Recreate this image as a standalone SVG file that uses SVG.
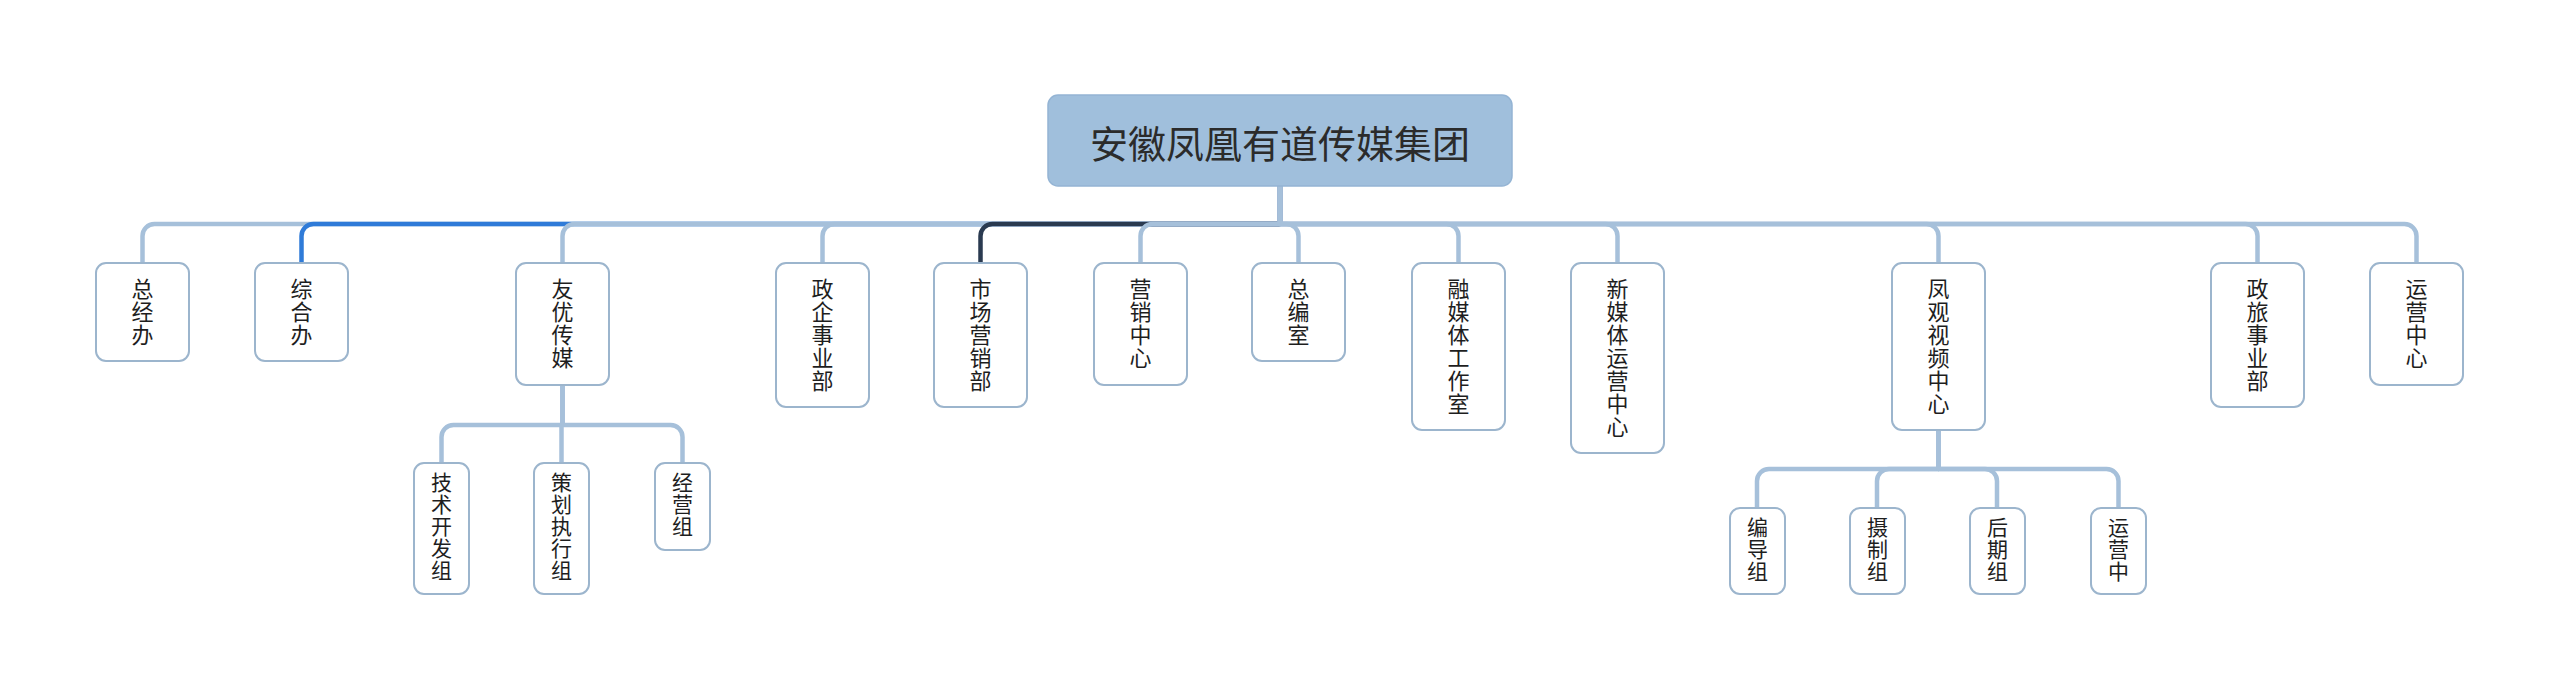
<svg xmlns="http://www.w3.org/2000/svg" width="2560" height="691" viewBox="0 0 2560 691">
<style>
.bg{fill:#ffffff}
.c{fill:none;stroke:#a6c0da;stroke-width:4.5;stroke-linejoin:round}
.cb{fill:none;stroke:#2f7bd8;stroke-width:4.5;stroke-linejoin:round}
.cd{fill:none;stroke:#2a3a50;stroke-width:4.5;stroke-linejoin:round}
.box{fill:#ffffff;stroke:#9cb5cd;stroke-width:2}
.root{fill:#a0bfdc;stroke:#94b4d4;stroke-width:1.5}
.t1{font-family:"Noto Sans CJK SC","Noto Sans",sans-serif;font-size:22px;fill:#1e1e1e;text-anchor:middle}
.t2{font-family:"Noto Sans CJK SC","Noto Sans",sans-serif;font-size:21px;fill:#1e1e1e;text-anchor:middle}
.tr{font-family:"Noto Sans CJK SC","Noto Sans",sans-serif;font-size:38px;fill:#2b2b2b;text-anchor:middle}
</style>
<rect class="bg" x="0" y="0" width="2560" height="691"/>
<g id="connectors">
<path class="c" d="M142.5,263 V236 A12,12 0 0 1 154.5,224 H1280 V186"/>
<path class="cb" d="M301.5,263 V236 A12,12 0 0 1 313.5,224 H1280 V186"/>
<path class="c" d="M562.5,263 V236 A12,12 0 0 1 574.5,224 H1280 V186"/>
<path class="c" d="M822.5,263 V236 A12,12 0 0 1 834.5,224 H1280 V186"/>
<path class="cd" d="M980.5,263 V236 A12,12 0 0 1 992.5,224 H1280 V186"/>
<path class="c" d="M1140.5,263 V236 A12,12 0 0 1 1152.5,224 H1280 V186"/>
<path class="c" d="M2416.5,263 V236 A12,12 0 0 0 2404.5,224 H1280 V186"/>
<path class="c" d="M2257.5,263 V236 A12,12 0 0 0 2245.5,224 H1280 V186"/>
<path class="c" d="M1938.5,263 V236 A12,12 0 0 0 1926.5,224 H1280 V186"/>
<path class="c" d="M1617.5,263 V236 A12,12 0 0 0 1605.5,224 H1280 V186"/>
<path class="c" d="M1458.5,263 V236 A12,12 0 0 0 1446.5,224 H1280 V186"/>
<path class="c" d="M1298.5,263 V236 A12,12 0 0 0 1286.5,224 H1280 V186"/>
<path class="c" d="M441.5,463 V437 A12,12 0 0 1 453.5,425 H562.5 V385"/>
<path class="c" d="M682.5,463 V437 A12,12 0 0 0 670.5,425 H562.5 V385"/>
<path class="c" d="M561.5,463 V425 H562.5 V385"/>
<path class="c" d="M1757,508 V481 A12,12 0 0 1 1769,469 H1938.5 V430"/>
<path class="c" d="M1877,508 V481 A12,12 0 0 1 1889,469 H1938.5 V430"/>
<path class="c" d="M2118.5,508 V481 A12,12 0 0 0 2106.5,469 H1938.5 V430"/>
<path class="c" d="M1997,508 V481 A12,12 0 0 0 1985,469 H1938.5 V430"/>
</g>
<g id="root">
<rect class="root" x="1048" y="95" width="464" height="91" rx="10"/>
<text class="tr" x="1280" y="158">安徽凤凰有道传媒集团</text>
</g>
<g id="n-zongjingban">
<rect class="box" x="96" y="263" width="93" height="98" rx="10"/>
<text class="t1" x="142.5" y="297"><tspan x="142.5">总</tspan><tspan x="142.5" dy="23">经</tspan><tspan x="142.5" dy="23">办</tspan></text>
</g>
<g id="n-zonghe">
<rect class="box" x="255" y="263" width="93" height="98" rx="10"/>
<text class="t1" x="301.5" y="297"><tspan x="301.5">综</tspan><tspan x="301.5" dy="23">合</tspan><tspan x="301.5" dy="23">办</tspan></text>
</g>
<g id="n-youyou">
<rect class="box" x="516" y="263" width="93" height="122" rx="10"/>
<text class="t1" x="562.5" y="297"><tspan x="562.5">友</tspan><tspan x="562.5" dy="23">优</tspan><tspan x="562.5" dy="23">传</tspan><tspan x="562.5" dy="23">媒</tspan></text>
</g>
<g id="n-zhengqi">
<rect class="box" x="776" y="263" width="93" height="144" rx="10"/>
<text class="t1" x="822.5" y="297"><tspan x="822.5">政</tspan><tspan x="822.5" dy="23">企</tspan><tspan x="822.5" dy="23">事</tspan><tspan x="822.5" dy="23">业</tspan><tspan x="822.5" dy="23">部</tspan></text>
</g>
<g id="n-shichang">
<rect class="box" x="934" y="263" width="93" height="144" rx="10"/>
<text class="t1" x="980.5" y="297"><tspan x="980.5">市</tspan><tspan x="980.5" dy="23">场</tspan><tspan x="980.5" dy="23">营</tspan><tspan x="980.5" dy="23">销</tspan><tspan x="980.5" dy="23">部</tspan></text>
</g>
<g id="n-yingxiao">
<rect class="box" x="1094" y="263" width="93" height="122" rx="10"/>
<text class="t1" x="1140.5" y="297"><tspan x="1140.5">营</tspan><tspan x="1140.5" dy="23">销</tspan><tspan x="1140.5" dy="23">中</tspan><tspan x="1140.5" dy="23">心</tspan></text>
</g>
<g id="n-zongbian">
<rect class="box" x="1252" y="263" width="93" height="98" rx="10"/>
<text class="t1" x="1298.5" y="297"><tspan x="1298.5">总</tspan><tspan x="1298.5" dy="23">编</tspan><tspan x="1298.5" dy="23">室</tspan></text>
</g>
<g id="n-rongmeiti">
<rect class="box" x="1412" y="263" width="93" height="167" rx="10"/>
<text class="t1" x="1458.5" y="297"><tspan x="1458.5">融</tspan><tspan x="1458.5" dy="23">媒</tspan><tspan x="1458.5" dy="23">体</tspan><tspan x="1458.5" dy="23">工</tspan><tspan x="1458.5" dy="23">作</tspan><tspan x="1458.5" dy="23">室</tspan></text>
</g>
<g id="n-xinmeiti">
<rect class="box" x="1571" y="263" width="93" height="190" rx="10"/>
<text class="t1" x="1617.5" y="297"><tspan x="1617.5">新</tspan><tspan x="1617.5" dy="23">媒</tspan><tspan x="1617.5" dy="23">体</tspan><tspan x="1617.5" dy="23">运</tspan><tspan x="1617.5" dy="23">营</tspan><tspan x="1617.5" dy="23">中</tspan><tspan x="1617.5" dy="23">心</tspan></text>
</g>
<g id="n-fengguan">
<rect class="box" x="1892" y="263" width="93" height="167" rx="10"/>
<text class="t1" x="1938.5" y="297"><tspan x="1938.5">凤</tspan><tspan x="1938.5" dy="23">观</tspan><tspan x="1938.5" dy="23">视</tspan><tspan x="1938.5" dy="23">频</tspan><tspan x="1938.5" dy="23">中</tspan><tspan x="1938.5" dy="23">心</tspan></text>
</g>
<g id="n-zhenglv">
<rect class="box" x="2211" y="263" width="93" height="144" rx="10"/>
<text class="t1" x="2257.5" y="297"><tspan x="2257.5">政</tspan><tspan x="2257.5" dy="23">旅</tspan><tspan x="2257.5" dy="23">事</tspan><tspan x="2257.5" dy="23">业</tspan><tspan x="2257.5" dy="23">部</tspan></text>
</g>
<g id="n-yunying">
<rect class="box" x="2370" y="263" width="93" height="122" rx="10"/>
<text class="t1" x="2416.5" y="297"><tspan x="2416.5">运</tspan><tspan x="2416.5" dy="23">营</tspan><tspan x="2416.5" dy="23">中</tspan><tspan x="2416.5" dy="23">心</tspan></text>
</g>
<g id="n-jishu">
<rect class="box" x="414" y="463" width="55" height="131" rx="10"/>
<text class="t2" x="441.5" y="490"><tspan x="441.5">技</tspan><tspan x="441.5" dy="22">术</tspan><tspan x="441.5" dy="22">开</tspan><tspan x="441.5" dy="22">发</tspan><tspan x="441.5" dy="22">组</tspan></text>
</g>
<g id="n-cehua">
<rect class="box" x="534" y="463" width="55" height="131" rx="10"/>
<text class="t2" x="561.5" y="490"><tspan x="561.5">策</tspan><tspan x="561.5" dy="22">划</tspan><tspan x="561.5" dy="22">执</tspan><tspan x="561.5" dy="22">行</tspan><tspan x="561.5" dy="22">组</tspan></text>
</g>
<g id="n-jingying">
<rect class="box" x="655" y="463" width="55" height="87" rx="10"/>
<text class="t2" x="682.5" y="490"><tspan x="682.5">经</tspan><tspan x="682.5" dy="22">营</tspan><tspan x="682.5" dy="22">组</tspan></text>
</g>
<g id="n-biandao">
<rect class="box" x="1730" y="508" width="55" height="86" rx="10"/>
<text class="t2" x="1757.5" y="535"><tspan x="1757.5">编</tspan><tspan x="1757.5" dy="22">导</tspan><tspan x="1757.5" dy="22">组</tspan></text>
</g>
<g id="n-shezhi">
<rect class="box" x="1850" y="508" width="55" height="86" rx="10"/>
<text class="t2" x="1877.5" y="535"><tspan x="1877.5">摄</tspan><tspan x="1877.5" dy="22">制</tspan><tspan x="1877.5" dy="22">组</tspan></text>
</g>
<g id="n-houqi">
<rect class="box" x="1970" y="508" width="55" height="86" rx="10"/>
<text class="t2" x="1997.5" y="535"><tspan x="1997.5">后</tspan><tspan x="1997.5" dy="22">期</tspan><tspan x="1997.5" dy="22">组</tspan></text>
</g>
<g id="n-yunyingzhong">
<rect class="box" x="2091" y="508" width="55" height="86" rx="10"/>
<text class="t2" x="2118.5" y="535"><tspan x="2118.5">运</tspan><tspan x="2118.5" dy="22">营</tspan><tspan x="2118.5" dy="22">中</tspan></text>
</g>
</svg>
